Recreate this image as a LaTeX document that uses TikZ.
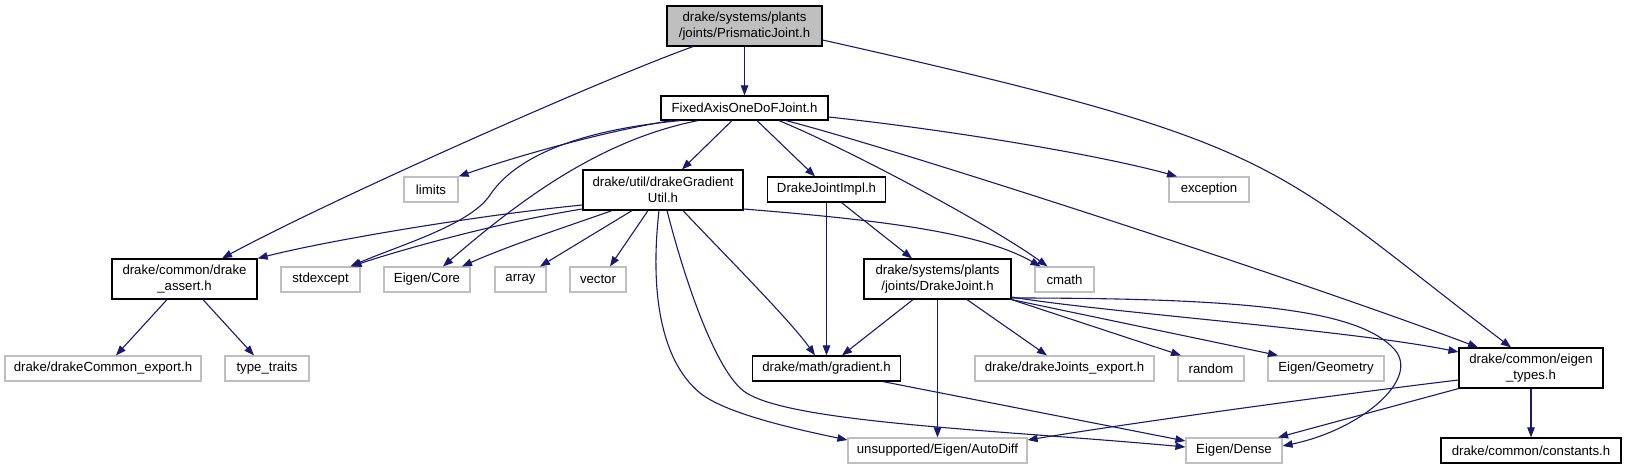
\documentclass[tikz,border=0pt]{standalone}
\usepackage{fontspec}
\setmainfont{Liberation Sans}
\usetikzlibrary{arrows.meta}
\definecolor{edgec}{RGB}{25,25,112}
\definecolor{nodegray}{RGB}{191,191,191}
\begin{document}
\begin{tikzpicture}[x=1pt,y=-1pt,
  box/.style={rectangle, inner sep=0pt, font=\fontsize{13.2}{15.5}\selectfont, align=center, line width=1.2pt, fill=white, minimum height=25pt},
  doc/.style={box, draw=black},
  undoc/.style={box, draw=nodegray},
  root/.style={box, draw=black, fill=nodegray},
  edge/.style={draw=edgec, line width=1.1pt, -{Triangle[length=10pt,width=7.5pt]}}]
\useasboundingbox (0,0) rectangle (1627,469);
% nodes
\node[root, minimum width=155pt, minimum height=40pt] (prism) at (744.5,26) {drake/systems/plants\\/joints/PrismaticJoint.h};
\node[doc, minimum width=167pt, minimum height=24pt] (fixed) at (744.5,108) {FixedAxisOneDoFJoint.h};
\node[undoc, minimum width=54pt] (limits) at (431,189.5) {limits};
\node[undoc, minimum width=80pt] (exception) at (1209,189.5) {exception};
\node[doc, minimum width=160pt, minimum height=40pt] (gradutil) at (663,190) {drake/util/drakeGradient\\Util.h};
\node[doc, minimum width=118pt] (jointimpl) at (826.5,189.5) {DrakeJointImpl.h};
\node[doc, minimum width=145pt, minimum height=40pt] (assert) at (184.5,279) {drake/common/drake\\\_assert.h};
\node[undoc, minimum width=79pt] (stdexcept) at (320.5,279.5) {stdexcept};
\node[undoc, minimum width=86pt] (eigencore) at (427,279.5) {Eigen/Core};
\node[undoc, minimum width=51pt] (array) at (520.5,279.5) {array};
\node[undoc, minimum width=56pt] (vector) at (598,279.5) {vector};
\node[doc, minimum width=147pt, minimum height=40pt] (drakejoint) at (937.5,279) {drake/systems/plants\\/joints/DrakeJoint.h};
\node[undoc, minimum width=59pt] (cmath) at (1064.5,279.5) {cmath};
\node[undoc, minimum width=196pt] (commonexport) at (103,368.5) {drake/drakeCommon\_export.h};
\node[undoc, minimum width=84pt] (typetraits) at (267,368.5) {type\_traits};
\node[doc, minimum width=148pt] (gradient) at (826.5,368.5) {drake/math/gradient.h};
\node[undoc, minimum width=179pt] (jointsexport) at (1064.5,368.5) {drake/drakeJoints\_export.h};
\node[undoc, minimum width=66pt] (random) at (1211,368.5) {random};
\node[undoc, minimum width=116pt] (geometry) at (1326,368.5) {Eigen/Geometry};
\node[doc, minimum width=144pt, minimum height=40pt] (eigentypes) at (1531,368) {drake/common/eigen\\\_types.h};
\node[undoc, minimum width=179pt] (autodiff) at (937.5,450.5) {unsupported/Eigen/AutoDiff};
\node[undoc, minimum width=96pt] (dense) at (1234,450.5) {Eigen/Dense};
\node[doc, minimum width=180pt] (constants) at (1531,450.5) {drake/common/constants.h};
% edges
\draw[edge] (prism.south) -- (fixed.north);
\draw[edge] ([xshift=-51.5pt]prism.south) .. controls (600,80) and (330,200) .. ([xshift=37.5pt]assert.north);
\draw[edge] ([yshift=-14pt]prism.east) .. controls (1290,145) and (1265,160) .. ([xshift=-20pt]eigentypes.north);
\draw[edge] ([xshift=-72.5pt]fixed.south) .. controls (610,130) and (520,155) .. (limits.north east);
\draw[edge] ([xshift=-64.5pt]fixed.south) .. controls (560,132) and (510,165) .. (490,195) .. controls (470,225) and (400,245) .. ([xshift=30pt]stdexcept.north);
\draw[edge] ([xshift=-46.5pt]fixed.south) .. controls (600,140) and (520,200) .. ([xshift=16pt]eigencore.north);
\draw[edge] ([xshift=-12.5pt]fixed.south) -- ([xshift=19pt]gradutil.north);
\draw[edge] ([xshift=12.5pt]fixed.south) -- ([xshift=-11.5pt]jointimpl.north);
\draw[edge] ([xshift=34.5pt]fixed.south) .. controls (850,150) and (990,225) .. ([xshift=-17pt]cmath.north);
\draw[edge] ([xshift=41.5pt]fixed.south) .. controls (900,150) and (1300,280) .. ([xshift=-53pt]eigentypes.north);
\draw[edge] ([yshift=-9pt]fixed.east) .. controls (950,130) and (1100,155) .. ([xshift=-32pt]exception.north);
\draw[edge] ([yshift=-15pt]gradutil.west) .. controls (480,215) and (330,240) .. (assert.north east);
\draw[edge] ([yshift=-19pt]gradutil.west) .. controls (500,222) and (400,250) .. ([xshift=31pt]stdexcept.north);
\draw[edge] ([xshift=-51pt]gradutil.south) .. controls (580,222) and (510,245) .. ([xshift=35pt]eigencore.north);
\draw[edge] ([xshift=-31pt]gradutil.south) -- ([xshift=19.5pt]array.north);
\draw[edge] ([xshift=-15pt]gradutil.south) -- ([xshift=12pt]vector.north);
\draw[edge] ([yshift=-19pt]gradutil.east) .. controls (880,220) and (980,232) .. ([xshift=-24pt]cmath.north);
\draw[edge] ([xshift=20pt]gradutil.south) .. controls (720,250) and (790,320) .. ([xshift=-11.5pt]gradient.north);
\draw[edge] ([xshift=-4pt]gradutil.south) .. controls (650,290) and (660,360) .. (700,393) .. controls (725,413) and (790,428) .. ([yshift=10.5pt]autodiff.west);
\draw[edge] ([xshift=4pt]gradutil.south) .. controls (690,300) and (720,375) .. (745,392) .. controls (790,423) and (1000,430) .. ([yshift=3.5pt]dense.west);
\draw[edge] (jointimpl.south) -- (gradient.north);
\draw[edge] ([xshift=15pt]jointimpl.south) -- ([xshift=-25.5pt]drakejoint.north);
\draw[edge] ([xshift=-24.5pt]drakejoint.south) -- ([xshift=15.5pt]gradient.north);
\draw[edge] (drakejoint.south) -- (autodiff.north);
\draw[edge] ([xshift=29.5pt]drakejoint.south) -- ([xshift=-17.5pt]jointsexport.north);
\draw[edge] (drakejoint.south east) -- ([xshift=-30pt]random.north);
\draw[edge] (drakejoint.south east) -- ([xshift=-48pt]geometry.north);
\draw[edge] ([yshift=-18pt]drakejoint.east) .. controls (1100,312) and (1350,330) .. ([yshift=16pt]eigentypes.west);
\draw[edge] ([yshift=-19pt]drakejoint.east) .. controls (1250,298) and (1360,310) .. (1395,350) .. controls (1420,380) and (1360,430) .. ([yshift=4.5pt]dense.east);
\draw[edge] ([xshift=-17.5pt]assert.south) -- ([xshift=13pt]commonexport.north);
\draw[edge] ([xshift=18.5pt]assert.south) -- ([xshift=-13pt]typetraits.north);
\draw[edge] ([xshift=56.5pt]gradient.south) -- ([yshift=9.5pt]dense.west);
\draw[edge] ([yshift=-12pt]eigentypes.west) .. controls (1350,393) and (1150,420) .. ([yshift=10.5pt]autodiff.east);
\draw[edge] (eigentypes.south west) -- ([xshift=44pt]dense.north);
\draw[edge] (eigentypes.south) -- (constants.north);
\end{tikzpicture}
\end{document}
